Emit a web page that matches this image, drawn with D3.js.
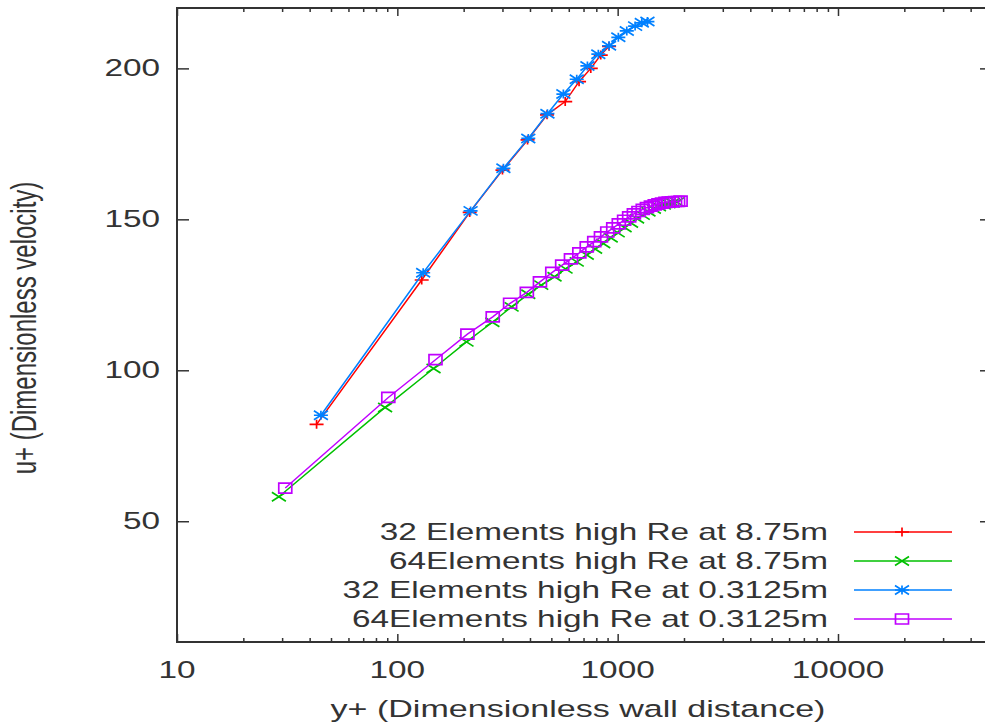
<!DOCTYPE html>
<html>
<head>
<meta charset="utf-8">
<script src="https://cdn.jsdelivr.net/npm/d3@7"></script>
<style>
  body { margin: 0; background: #fff; }
  svg text { font-family: "Liberation Sans", Arial, sans-serif; fill: #333; }
</style>
</head>
<body>
<div id="chart"></div>
<script>
// data (y+, u+)
var redX = [43, 129, 213, 300, 390, 478, 578, 668, 755, 838, 914];
var redU = [82.1, 129.9, 152.3, 166.3, 176.3, 184.6, 189.0, 195.6, 200.0, 204.4, 207.3];

var greenX = [29, 88, 146, 206, 270, 330, 393, 450, 517, 580, 652, 724, 790, 860, 930, 1000,
  1075, 1150, 1225, 1300, 1380, 1460, 1540, 1620, 1700, 1780, 1860];
var greenU = [58.1, 87.7, 100.6, 109.4, 115.9, 121.0, 125.2, 128.2, 131.0, 133.6, 135.9, 138.2,
  140.2, 142.0, 143.9, 145.6, 147.3, 148.8, 150.2, 151.4, 152.5, 153.4, 154.2, 154.8, 155.2, 155.5, 155.7];

var blueX = [45, 131, 215, 303, 393, 480, 567, 652, 729, 817, 914, 1007, 1100, 1200, 1287, 1365];
var blueU = [85.1, 132.3, 152.8, 166.9, 176.8, 185.0, 191.5, 196.4, 200.8, 204.7, 207.5, 210.3,
  212.4, 214.0, 215.1, 215.5];

var purpleX = [31, 91, 149, 208, 271, 325, 387, 444, 505, 560, 614, 670, 724, 783, 840, 897,
  955, 1012, 1070, 1128, 1185, 1243, 1300, 1358, 1416, 1474, 1532, 1590, 1648, 1706, 1764,
  1822, 1880, 1930];
var purpleU = [61.0, 91.0, 103.5, 112.0, 117.7, 122.2, 125.8, 129.3, 132.4, 134.8, 136.9, 138.9,
  140.9, 142.6, 144.2, 145.8, 147.2, 148.5, 149.7, 150.8, 151.8, 152.6, 153.3, 153.9, 154.4,
  154.8, 155.1, 155.4, 155.6, 155.7, 155.8, 155.9, 155.9, 156.0];

var seriesNames = ["32 Elements high Re at 8.75m", "64Elements high Re at 8.75m",
  "32 Elements high Re at 0.3125m", "64Elements high Re at 0.3125m"];
var seriesColors = ["#ff0000", "#00c000", "#0080ff", "#c000ff"];

var xMajor = [10, 100, 1000, 10000];
var yTicks = [50, 100, 150, 200];

var W = 985, H = 727;
var pLeft = 177, pRight = 992, pTop = 8, pBottom = 642;
var sx = 1.45; // the reference is stretched sideways

var svg = d3.select("#chart").append("svg")
    .attr("width", W)
    .attr("height", H);

var x = d3.scaleLog().domain([10, 50000]).range([pLeft, pRight]);
var y = d3.scaleLinear().domain([10, 220]).range([pBottom, pTop]);

var xMinor = [];
[10, 100, 1000, 10000].forEach(function (d) {
    for (var k = 2; k <= 9; k++) {
        if (d * k < 50000) xMinor.push(d * k);
    }
});

// ticks (pointing inward, like gnuplot)
function tickLines(axis, tr) {
    svg.append("g").attr("transform", tr).call(axis)
        .call(function (g) {
            g.select(".domain").remove();
            g.selectAll("text").remove();
            g.selectAll("line").attr("stroke", "#333").attr("stroke-width", 1.5);
        });
}
tickLines(d3.axisBottom(x).tickValues(xMajor).tickSize(-8), "translate(0," + pBottom + ")");
tickLines(d3.axisBottom(x).tickValues(xMinor).tickSize(-4), "translate(0," + pBottom + ")");
tickLines(d3.axisTop(x).tickValues(xMajor).tickSize(-8), "translate(0," + pTop + ")");
tickLines(d3.axisTop(x).tickValues(xMinor).tickSize(-4), "translate(0," + pTop + ")");
tickLines(d3.axisLeft(y).tickValues(yTicks).tickSize(-12), "translate(" + pLeft + ",0)");
tickLines(d3.axisRight(y).tickValues(yTicks).tickSize(-12), "translate(" + pRight + ",0)");

svg.append("rect")
    .attr("x", pLeft).attr("y", pTop)
    .attr("width", pRight - pLeft).attr("height", pBottom - pTop)
    .attr("fill", "none").attr("stroke", "#333").attr("stroke-width", 2);

// tick labels
xMajor.forEach(function (d) {
    svg.append("text")
        .attr("transform", "translate(" + x(d) + ",678) scale(" + sx + ",1)")
        .attr("text-anchor", "middle")
        .style("font-size", "23px")
        .text(d);
});
yTicks.forEach(function (d) {
    svg.append("text")
        .attr("transform", "translate(160," + (y(d) + 8) + ") scale(" + sx + ",1)")
        .attr("text-anchor", "end")
        .style("font-size", "23px")
        .text(d);
});

// axis titles
svg.append("text")
    .attr("transform", "translate(578,717) scale(" + sx + ",1)")
    .attr("text-anchor", "middle")
    .style("font-size", "23.5px")
    .text("y+ (Dimensionless wall distance)");
svg.append("text")
    .attr("transform", "translate(36,328) scale(" + sx + ",1) rotate(-90)")
    .attr("text-anchor", "middle")
    .style("font-size", "24px")
    .text("u+ (Dimensionless velocity)");

// markers, widened like the rest of the picture
var markers = [
    "M-7,0H7M0,-4.5V4.5",
    "M-7,-4.5L7,4.5M-7,4.5L7,-4.5",
    "M-7,0H7M0,-4.5V4.5M-7,-4.5L7,4.5M-7,4.5L7,-4.5",
    "M-6.5,-5H6.5V5H-6.5Z"
];

var series = [
    { xs: redX, us: redU },
    { xs: greenX, us: greenU },
    { xs: blueX, us: blueU },
    { xs: purpleX, us: purpleU }
];

var line = d3.line()
    .x(function (d) { return x(d[0]); })
    .y(function (d) { return y(d[1]); });

series.forEach(function (s, i) {
    var pts = s.xs.map(function (v, j) { return [v, s.us[j]]; });
    var g = svg.append("g");
    g.append("path")
        .attr("d", line(pts))
        .attr("fill", "none")
        .attr("stroke", seriesColors[i])
        .attr("stroke-width", 1.5);
    g.selectAll("path.pt").data(pts).enter().append("path")
        .attr("class", "pt")
        .attr("transform", function (d) { return "translate(" + x(d[0]) + "," + y(d[1]) + ")"; })
        .attr("d", markers[i])
        .attr("fill", "none")
        .attr("stroke", seriesColors[i])
        .attr("stroke-width", 1.7);
});

// legend
var legY = [532, 561, 590, 619];
seriesNames.forEach(function (name, i) {
    svg.append("text")
        .attr("transform", "translate(828," + (legY[i] + 8) + ") scale(" + sx + ",1)")
        .attr("text-anchor", "end")
        .style("font-size", "23px")
        .text(name);
    svg.append("line")
        .attr("x1", 854).attr("x2", 952)
        .attr("y1", legY[i]).attr("y2", legY[i])
        .attr("stroke", seriesColors[i]).attr("stroke-width", 1.5);
    svg.append("path")
        .attr("transform", "translate(902," + legY[i] + ")")
        .attr("d", markers[i])
        .attr("fill", "none")
        .attr("stroke", seriesColors[i])
        .attr("stroke-width", 1.7);
});
</script>
</body>
</html>
